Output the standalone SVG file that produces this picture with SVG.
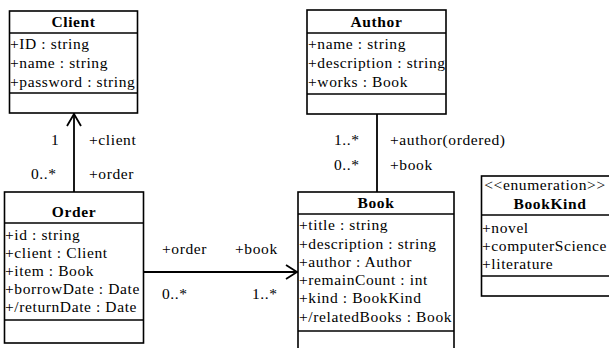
<svg xmlns="http://www.w3.org/2000/svg" width="609" height="348" viewBox="0 0 609 348" font-family="'Liberation Serif', 'Times New Roman', serif">
  <style>
    text { font-family: "Liberation Serif", "Times New Roman", serif; font-size: 15.5px; letter-spacing: 0.6px; fill: #000; }
    .title { font-weight: bold; text-anchor: middle; }
    .box { fill: #fff; stroke: #000; stroke-width: 1.6; }
    .sep { stroke: #000; stroke-width: 1.6; }
    .edge { fill: none; stroke: #000; stroke-width: 1.8; }
  </style>
  <rect width="609" height="348" fill="#fff"/>

  <!-- associations -->
  <g id="connectors">
    <line class="edge" x1="74" y1="192" x2="74" y2="113"/>
    <polyline class="edge" points="67,126 74,114 81,126"/>
    <line class="edge" x1="377" y1="114" x2="377" y2="192"/>
    <line class="edge" x1="143.5" y1="272" x2="298" y2="272"/>
    <polyline class="edge" points="286,265 297,272 286,279"/>
    <text x="51" y="145">1</text>
    <text x="89" y="145">+client</text>
    <text x="31" y="179">0..*</text>
    <text x="89" y="179">+order</text>
    <text x="334" y="145">1..*</text>
    <text x="390" y="145">+author(ordered)</text>
    <text x="334" y="170">0..*</text>
    <text x="390" y="170">+book</text>
    <text x="162" y="254">+order</text>
    <text x="235" y="254">+book</text>
    <text x="162" y="299">0..*</text>
    <text x="252" y="299">1..*</text>
  </g>

  <g id="client">
    <rect class="box" x="9.5" y="11" width="128" height="102"/>
    <line class="sep" x1="9.5" y1="33" x2="137.5" y2="33"/>
    <line class="sep" x1="9.5" y1="93" x2="137.5" y2="93"/>
    <text class="title" x="73.5" y="27">Client</text>
    <text x="10" y="49">+ID : string</text>
    <text x="10" y="68">+name : string</text>
    <text x="10" y="87">+password : string</text>
  </g>

  <g id="author">
    <rect class="box" x="307" y="10" width="139" height="104"/>
    <line class="sep" x1="307" y1="33" x2="446" y2="33"/>
    <line class="sep" x1="307" y1="94" x2="446" y2="94"/>
    <text class="title" x="376.5" y="27">Author</text>
    <text x="308" y="49">+name : string</text>
    <text x="308" y="68">+description : string</text>
    <text x="308" y="87">+works : Book</text>
  </g>

  <g id="order">
    <rect class="box" x="4.5" y="192" width="139" height="151"/>
    <line class="sep" x1="4.5" y1="223" x2="143.5" y2="223"/>
    <line class="sep" x1="4.5" y1="320" x2="143.5" y2="320"/>
    <text class="title" x="74" y="217">Order</text>
    <text x="5" y="240">+id : string</text>
    <text x="5" y="258">+client : Client</text>
    <text x="5" y="276">+item : Book</text>
    <text x="5" y="294">+borrowDate : Date</text>
    <text x="5" y="312">+/returnDate : Date</text>
  </g>

  <g id="book">
    <rect class="box" x="298" y="192" width="156" height="164"/>
    <line class="sep" x1="298" y1="214" x2="454" y2="214"/>
    <line class="sep" x1="298" y1="331" x2="454" y2="331"/>
    <text class="title" x="376" y="208">Book</text>
    <text x="299" y="230">+title : string</text>
    <text x="299" y="249">+description : string</text>
    <text x="299" y="267">+author : Author</text>
    <text x="299" y="285">+remainCount : int</text>
    <text x="299" y="303">+kind : BookKind</text>
    <text x="299" y="322">+/relatedBooks : Book</text>
  </g>

  <g id="bookkind">
    <rect class="box" x="481.5" y="176" width="132" height="120"/>
    <line class="sep" x1="481.5" y1="215" x2="613" y2="215"/>
    <line class="sep" x1="481.5" y1="276" x2="613" y2="276"/>
    <text x="545" y="190" text-anchor="middle">&lt;&lt;enumeration&gt;&gt;</text>
    <text class="title" x="550" y="209">BookKind</text>
    <text x="482" y="233">+novel</text>
    <text x="482" y="251">+computerScience</text>
    <text x="482" y="269">+literature</text>
  </g>
</svg>
